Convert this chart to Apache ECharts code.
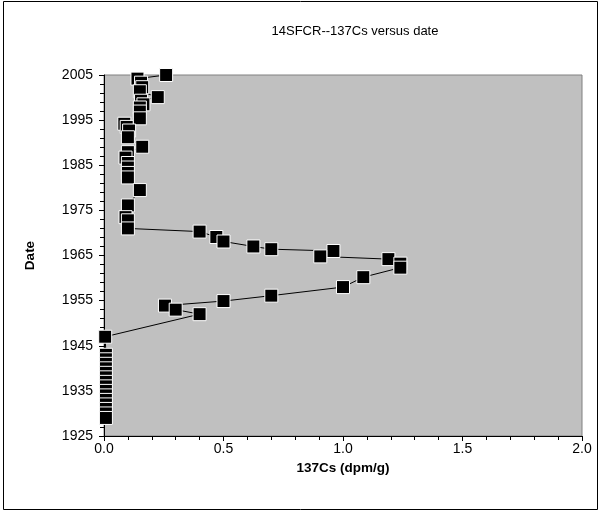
<!DOCTYPE html>
<html>
<head>
<meta charset="utf-8">
<script src="https://cdn.jsdelivr.net/npm/echarts@6/dist/echarts.min.js"></script>
<style>
html,body{margin:0;padding:0;background:#fff;}
#chart{width:603px;height:518px;}
</style>
</head>
<body>
<div id="chart"></div>
<script>
// Date (year) of each sample, in depth order
var dates = [2005.0, 2004.2, 2003.3, 2002.3, 2001.4, 2000.1, 1999.3, 1998.5, 1997.8, 1996.9,
  1995.4, 1994.2, 1993.5, 1992.7, 1991.2, 1989.1, 1987.9, 1986.7, 1985.5, 1984.5,
  1983.3, 1982.3, 1979.5, 1976.1, 1973.5, 1972.8, 1971.0, 1970.3, 1969.1, 1968.1,
  1967.0, 1966.4, 1966.0, 1964.8, 1964.2, 1963.2, 1962.3, 1960.2, 1958.0, 1956.1,
  1954.9, 1953.9, 1953.0, 1952.0, 1947.0, 1943.0, 1942.0, 1941.0, 1940.0, 1939.0,
  1938.0, 1937.0, 1936.0, 1935.0, 1934.0, 1933.0, 1932.0, 1931.0, 1930.0, 1929.0];
// 137Cs activity (dpm/g)
var cs137 = [0.26, 0.14, 0.155, 0.16, 0.15, 0.225, 0.155, 0.165, 0.15, 0.15,
  0.15, 0.085, 0.095, 0.105, 0.10, 0.16, 0.10, 0.09, 0.10, 0.10,
  0.10, 0.10, 0.15, 0.10, 0.09, 0.10, 0.10, 0.40, 0.47, 0.50,
  0.625, 0.70, 0.96, 0.905, 1.19, 1.24, 1.24, 1.085, 1.00, 0.70,
  0.50, 0.255, 0.30, 0.40, 0.005, 0.008, 0.008, 0.008, 0.008, 0.008,
  0.008, 0.008, 0.008, 0.008, 0.008, 0.008, 0.008, 0.008, 0.008, 0.008];
var xTicks = [0.0, 0.5, 1.0, 1.5, 2.0];
var yTicks = [1925, 1935, 1945, 1955, 1965, 1975, 1985, 1995, 2005];

var pts = dates.map(function(d, i){ return [cs137[i], d]; });
var font = '"Liberation Sans", Arial, sans-serif';
var chart = echarts.init(document.getElementById('chart'), null, {renderer:'canvas'});
chart.setOption({
  animation: false,
  backgroundColor: '#ffffff',
  title: {
    text: '14SFCR--137Cs versus date',
    left: 350, top: 20, textAlign: 'center',
    textStyle: {fontFamily: font, fontSize: 13, fontWeight: 'normal', color: '#000'}
  },
  graphic: [{
    type: 'rect', shape: {x: 3.5, y: 1.5, width: 594, height: 508},
    style: {fill: 'none', stroke: '#000', lineWidth: 1}, silent: true, z: -1
  }],
  grid: {left: 104, right: 21, top: 75, bottom: 82, show: true,
    backgroundColor: '#C0C0C0', borderColor: '#808080', borderWidth: 1},
  xAxis: {
    type: 'value', min: xTicks[0], max: xTicks[xTicks.length-1], interval: 0.5,
    name: '137Cs (dpm/g)', nameLocation: 'middle', nameGap: 23,
    nameTextStyle: {fontFamily: font, fontSize: 13.5, fontWeight: 'bold', color: '#000'},
    axisLine: {show: true, onZero: false, lineStyle: {color: '#000', width: 1}},
    axisTick: {show: true, length: 5, lineStyle: {color: '#000'}},
    minorTick: {show: true, splitNumber: 5, length: 4, lineStyle: {color: '#000'}},
    splitLine: {show: false},
    axisLabel: {fontFamily: font, fontSize: 14, color: '#000', margin: 6,
      formatter: function(v){ return v.toFixed(1); }}
  },
  yAxis: {
    type: 'value', min: yTicks[0], max: yTicks[yTicks.length-1], interval: 10,
    name: 'Date', nameLocation: 'middle', nameGap: 67, nameRotate: 90,
    nameTextStyle: {fontFamily: font, fontSize: 13.5, fontWeight: 'bold', color: '#000'},
    axisLine: {show: true, onZero: false, lineStyle: {color: '#000', width: 1}},
    axisTick: {show: true, length: 5, lineStyle: {color: '#000'}},
    minorTick: {show: true, splitNumber: 5, length: 4, lineStyle: {color: '#000'}},
    splitLine: {show: false},
    axisLabel: {fontFamily: font, fontSize: 14, color: '#000', margin: 11,
      formatter: function(v){ return String(v); }}
  },
  series: [{
    type: 'line', data: pts,
    symbol: 'rect', symbolSize: 13, showAllSymbol: true,
    lineStyle: {color: '#000', width: 1},
    itemStyle: {color: '#000', borderColor: '#ffffff', borderWidth: 1},
    z: 3
  }]
});
</script>
</body>
</html>
